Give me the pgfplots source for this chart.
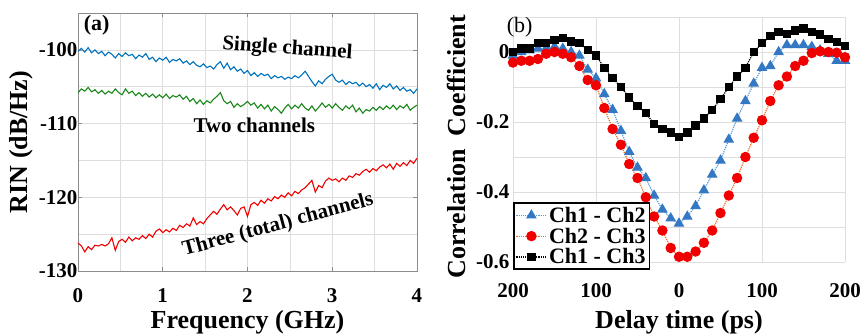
\documentclass[border=0pt]{standalone}
\usepackage{pgfplots}
\usepackage{pgfplotstable}
\pgfplotsset{compat=1.18}
\usepackage{fontspec}
\setmainfont{Liberation Serif}
\definecolor{mblue}{RGB}{0,114,189}
\definecolor{mgreen}{RGB}{25,135,25}
\definecolor{mred}{RGB}{240,0,0}
\definecolor{xblue}{RGB}{52,120,195}
\definecolor{xline}{RGB}{91,155,213}
\definecolor{xorange}{RGB}{240,110,40}
\definecolor{gridgray}{RGB}{222,222,222}

\pgfplotstableread{
f v
0.00 -100.2
0.04 -99.8
0.08 -100.3
0.12 -99.7
0.16 -100.4
0.20 -100.0
0.24 -100.5
0.28 -100.2
0.32 -100.8
0.36 -100.3
0.40 -100.6
0.44 -101.1
0.48 -100.5
0.52 -100.9
0.56 -100.4
0.60 -100.8
0.64 -100.6
0.68 -101.2
0.72 -100.7
0.76 -101.0
0.80 -100.5
0.84 -101.3
0.88 -101.0
0.92 -101.6
0.96 -101.1
1.00 -101.4
1.04 -101.0
1.08 -101.7
1.12 -101.3
1.16 -101.5
1.20 -101.2
1.24 -101.8
1.28 -101.5
1.32 -102.0
1.36 -101.6
1.40 -102.1
1.44 -102.3
1.48 -101.9
1.52 -102.4
1.56 -102.2
1.60 -102.6
1.64 -102.0
1.68 -101.6
1.72 -102.5
1.76 -101.8
1.80 -102.7
1.84 -102.3
1.88 -102.9
1.92 -102.6
1.96 -103.2
2.00 -102.8
2.04 -103.5
2.08 -103.1
2.12 -103.6
2.16 -103.2
2.20 -103.5
2.24 -103.3
2.28 -103.9
2.32 -103.5
2.36 -103.8
2.40 -103.6
2.44 -104.0
2.48 -103.7
2.52 -103.9
2.56 -103.5
2.60 -103.8
2.64 -103.4
2.68 -102.9
2.72 -103.6
2.76 -104.3
2.80 -104.9
2.84 -104.2
2.88 -104.6
2.92 -104.0
2.96 -103.6
3.00 -103.3
3.04 -104.1
3.08 -104.4
3.12 -104.1
3.16 -104.7
3.20 -104.3
3.24 -104.6
3.28 -104.4
3.32 -104.9
3.36 -104.5
3.40 -105.0
3.44 -104.7
3.48 -105.2
3.52 -104.6
3.56 -105.4
3.60 -104.8
3.64 -105.1
3.68 -104.6
3.72 -105.3
3.76 -104.9
3.80 -105.5
3.84 -105.1
3.88 -105.6
3.92 -105.4
3.96 -105.9
4.00 -105.3
}\single

\pgfplotstableread{
f v
0.00 -105.8
0.04 -105.3
0.08 -105.6
0.12 -105.1
0.16 -105.7
0.20 -105.4
0.24 -105.9
0.28 -105.5
0.32 -106.0
0.36 -105.6
0.40 -105.9
0.44 -105.3
0.48 -105.8
0.52 -106.1
0.56 -105.3
0.60 -105.9
0.64 -105.6
0.68 -106.2
0.72 -105.8
0.76 -106.3
0.80 -105.9
0.84 -106.4
0.88 -106.0
0.92 -106.5
0.96 -106.1
1.00 -106.5
1.04 -106.0
1.08 -106.6
1.12 -106.2
1.16 -106.4
1.20 -106.1
1.24 -106.7
1.28 -106.3
1.32 -107.0
1.36 -106.6
1.40 -107.3
1.44 -106.8
1.48 -107.4
1.52 -106.9
1.56 -107.2
1.60 -106.7
1.64 -106.3
1.68 -105.8
1.72 -106.9
1.76 -107.3
1.80 -107.0
1.84 -107.8
1.88 -107.3
1.92 -107.7
1.96 -107.4
2.00 -107.0
2.04 -107.5
2.08 -107.2
2.12 -107.9
2.16 -107.4
2.20 -108.0
2.24 -107.5
2.28 -108.3
2.32 -107.7
2.36 -108.1
2.40 -108.6
2.44 -107.9
2.48 -107.4
2.52 -108.0
2.56 -107.5
2.60 -107.9
2.64 -107.3
2.68 -107.9
2.72 -108.2
2.76 -107.6
2.80 -108.3
2.84 -107.8
2.88 -107.2
2.92 -107.8
2.96 -107.4
3.00 -107.9
3.04 -107.3
3.08 -107.8
3.12 -108.2
3.16 -107.6
3.20 -108.0
3.24 -107.5
3.28 -108.4
3.32 -107.9
3.36 -108.6
3.40 -108.1
3.44 -108.3
3.48 -107.8
3.52 -108.2
3.56 -107.7
3.60 -108.1
3.64 -107.6
3.68 -108.0
3.72 -107.5
3.76 -108.1
3.80 -107.6
3.84 -107.9
3.88 -107.4
3.92 -108.2
3.96 -107.8
4.00 -107.5
}\two

\pgfplotstableread{
f v
0.00 -126.2
0.04 -126.6
0.08 -127.4
0.12 -126.7
0.16 -127.1
0.20 -126.5
0.24 -126.6
0.28 -126.4
0.32 -126.6
0.36 -126.3
0.40 -125.5
0.44 -127.2
0.48 -126.0
0.52 -125.7
0.56 -126.1
0.60 -125.4
0.64 -125.9
0.68 -125.5
0.72 -125.7
0.76 -125.2
0.80 -125.6
0.84 -125.0
0.88 -125.4
0.92 -124.6
0.96 -124.3
1.00 -124.8
1.04 -124.4
1.08 -124.7
1.12 -124.2
1.16 -124.5
1.20 -123.8
1.24 -124.1
1.28 -123.6
1.32 -123.9
1.36 -122.8
1.40 -123.7
1.44 -123.3
1.48 -123.6
1.52 -122.9
1.56 -122.4
1.60 -121.9
1.64 -122.3
1.68 -121.6
1.72 -121.0
1.76 -121.7
1.80 -121.3
1.84 -121.8
1.88 -122.4
1.92 -121.5
1.96 -121.3
2.00 -122.6
2.04 -121.0
2.08 -120.7
2.12 -121.1
2.16 -120.4
2.20 -120.8
2.24 -120.2
2.28 -120.5
2.32 -119.9
2.36 -120.2
2.40 -119.7
2.44 -120.0
2.48 -119.4
2.52 -119.8
2.56 -119.2
2.60 -119.5
2.64 -119.0
2.68 -118.7
2.72 -118.2
2.76 -117.7
2.80 -119.3
2.84 -118.4
2.88 -118.7
2.92 -117.8
2.96 -117.4
3.00 -117.7
3.04 -117.5
3.08 -117.9
3.12 -117.4
3.16 -117.7
3.20 -117.1
3.24 -117.3
3.28 -116.8
3.32 -117.0
3.36 -116.5
3.40 -116.2
3.44 -116.6
3.48 -116.1
3.52 -116.4
3.56 -115.9
3.60 -115.6
3.64 -116.0
3.68 -115.5
3.72 -116.2
3.76 -115.4
3.80 -115.8
3.84 -115.3
3.88 -115.7
3.92 -115.0
3.96 -115.4
4.00 -114.7
}\three

\pgfplotstableread{
t a b c
-200 -0.010 -0.030 0.000
-190 0.000 -0.025 0.010
-180 0.005 -0.025 0.010
-170 0.010 -0.020 0.025
-160 0.010 -0.005 0.025
-150 0.015 0.000 0.035
-140 0.010 -0.005 0.040
-130 0.000 -0.015 0.030
-120 -0.010 -0.040 0.025
-110 -0.050 -0.080 0.005
-100 -0.075 -0.095 -0.010
-90 -0.120 -0.160 -0.045
-80 -0.165 -0.220 -0.075
-70 -0.225 -0.265 -0.100
-60 -0.285 -0.320 -0.130
-50 -0.330 -0.360 -0.155
-40 -0.360 -0.415 -0.175
-30 -0.410 -0.470 -0.205
-20 -0.450 -0.510 -0.220
-10 -0.475 -0.560 -0.230
0 -0.490 -0.585 -0.243
10 -0.470 -0.585 -0.230
20 -0.440 -0.570 -0.210
30 -0.395 -0.545 -0.190
40 -0.350 -0.510 -0.165
50 -0.310 -0.460 -0.135
60 -0.250 -0.410 -0.100
70 -0.190 -0.360 -0.070
80 -0.140 -0.300 -0.045
90 -0.090 -0.245 0.000
100 -0.045 -0.195 0.025
110 -0.040 -0.140 0.045
120 0.000 -0.095 0.057
130 0.020 -0.070 0.052
140 0.020 -0.040 0.062
150 0.020 -0.025 0.067
160 0.015 -0.003 0.057
170 0.005 0.002 0.050
180 -0.005 0.000 0.038
190 -0.025 -0.002 0.028
200 -0.025 -0.015 0.017
}\corr

\begin{document}
\begin{tikzpicture}
\useasboundingbox (0pt,0pt) rectangle (865pt,335pt);
% ---------------- (a) ----------------
\begin{axis}[
  at={(78pt,64pt)}, anchor=south west, scale only axis,
  width=339pt, height=258pt,
  xmin=0, xmax=4, ymin=-130, ymax=-95,
  xtick={0,1,2,3,4}, minor xtick={0.5,1.5,2.5,3.5},
  ytick={-130,-120,-110,-100}, minor ytick={-125,-115,-105},
  grid=both,
  major grid style={gridgray, line width=0.7pt},
  minor grid style={gridgray, line width=0.7pt},
  axis line style={black!45, line width=0.9pt},
  tick style={black!45, line width=0.6pt},
  major tick length=4pt, minor tick length=0pt, tick align=inside,
  /pgf/number format/assume math mode=true,
  tick label style={font=\fontsize{21}{23}\selectfont\bfseries},
  xticklabel style={yshift=-14pt},
  yticklabel style={xshift=3pt},
  label style={font=\fontsize{26}{28}\selectfont\bfseries},
  xlabel={Frequency (GHz)}, ylabel={RIN (dB/Hz)},
  xlabel style={at={(axis description cs:0.5,-0.198)}, anchor=center},
  ylabel style={at={(axis description cs:-0.168,0.5)}, anchor=center},
]
\addplot[mblue, line width=1.1pt] table[x=f,y=v] {\single};
\addplot[mgreen, line width=1.1pt] table[x=f,y=v] {\two};
\addplot[mred, line width=1.1pt] table[x=f,y=v] {\three};
\node[font=\fontsize{22}{24}\selectfont\bfseries] at (axis cs:0.22,-96.7) {(a)};
\node[font=\fontsize{21}{23}\selectfont\bfseries, rotate=-4] at (axis cs:2.47,-99.9) {Single channel};
\node[font=\fontsize{21}{23}\selectfont\bfseries] at (axis cs:2.08,-110.3) {Two channels};
\node[font=\fontsize{21}{23}\selectfont\bfseries, rotate=15] at (axis cs:2.36,-123.8) {Three (total) channels};
\end{axis}
% ---------------- (b) ----------------
\begin{axis}[
  at={(513pt,73pt)}, anchor=south west, scale only axis,
  width=332pt, height=245pt,
  xmin=-200, xmax=200, ymin=-0.6, ymax=0.1,
  xtick={-200,-100,0,100,200}, xticklabels={200,100,0,100,200},
  ytick={-0.6,-0.4,-0.2,0}, yticklabels={-0.6,-0.4,-0.2,0},
  minor ytick={-0.5,-0.3,-0.1,0.1},
  grid=both,
  major grid style={gridgray, line width=0.7pt},
  minor grid style={gridgray, line width=0.7pt},
  axis line style={draw=none},
  major tick length=0pt, minor tick length=0pt,
  clip=false,
  /pgf/number format/assume math mode=true,
  tick label style={font=\fontsize{21}{23}\selectfont\bfseries},
  xticklabel style={yshift=-18pt},
  label style={font=\fontsize{26}{28}\selectfont\bfseries},
  xlabel={Delay time (ps)}, ylabel={Correlation~~Coefficient},
  xlabel style={at={(axis description cs:0.5,-0.245)}, anchor=center},
  ylabel style={at={(axis description cs:-0.169,0.47)}, anchor=center},
  legend style={at={(axis description cs:0,-0.033)}, anchor=south west,
    draw=black, line width=1.6pt, fill=white,
    font=\fontsize{22}{24}\selectfont\bfseries,
    inner sep=2pt, row sep=0pt},
  legend cell align=left,
  legend image code/.code={\draw[mark repeat=2,mark phase=2] plot coordinates {(0pt,0pt) (15pt,0pt) (30pt,0pt)};},
]
\addplot[xline, densely dotted, line width=1.2pt, mark=triangle*, mark size=5pt, mark options={solid, xblue, fill=xblue}] table[x=t,y=a] {\corr};
\addlegendentry{Ch1 - Ch2}
\addplot[xorange, densely dotted, line width=1.2pt, mark=*, mark size=4.6pt, mark options={solid, mred, fill=mred}] table[x=t,y=b] {\corr};
\addlegendentry{Ch2 - Ch3}
\addplot[black, densely dotted, line width=1.2pt, mark=square*, mark size=3.6pt, mark options={solid, black, fill=black}] table[x=t,y=c] {\corr};
\addlegendentry{Ch1 - Ch3}
\node[font=\fontsize{22}{24}\selectfont] at (axis cs:-192,0.072) {(b)};
\end{axis}
\end{tikzpicture}
\end{document}
